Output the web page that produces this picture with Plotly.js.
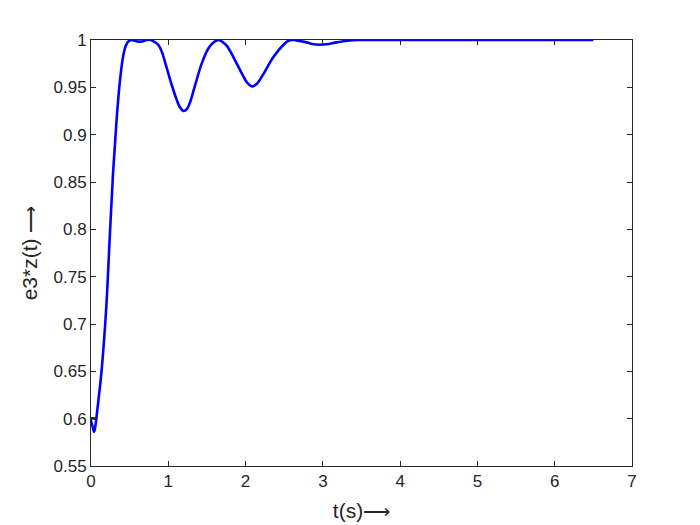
<!DOCTYPE html>
<html>
<head>
<meta charset="utf-8">
<script src="https://cdn.plot.ly/plotly-3.0.1.min.js"></script>
<style>html,body{margin:0;padding:0;background:#fff;}</style>
</head>
<body>
<div id="chart" style="width:700px;height:525px;"></div>
<script>
// Time samples (s)
var tValues = [0.06, 0, 0.02, 0.04, 0.06, 0.08, 0.134, 0.198, 0.241, 0.285, 0.328, 0.371, 0.414, 0.45, 0.49,
  0.53, 0.6, 0.66, 0.72, 0.77, 0.82, 0.87, 0.914, 0.978, 1.043, 1.108, 1.15, 1.2, 1.24, 1.281, 1.346,
  1.432, 1.518, 1.58, 1.647, 1.7, 1.756, 1.842, 1.95, 2.02, 2.09, 2.15, 2.23, 2.36, 2.49, 2.56, 2.62,
  2.7, 2.79, 2.88, 2.96, 3.05, 3.18, 3.35, 3.5, 4, 5, 6, 6.5];
// e3*z(t) values
var zValues = [0.6, 0.6, 0.592, 0.586, 0.594, 0.608, 0.648, 0.718, 0.789, 0.859, 0.912, 0.954, 0.982, 0.994, 0.999,
  1.0, 0.9985, 0.9985, 1.0, 1.0, 0.998, 0.995, 0.988, 0.971, 0.953, 0.937, 0.929, 0.925, 0.927, 0.934, 0.952,
  0.975, 0.991, 0.997, 1.0, 0.998, 0.994, 0.982, 0.965, 0.955, 0.951, 0.954, 0.964, 0.982, 0.995, 0.9995, 1.0,
  0.999, 0.9975, 0.9955, 0.995, 0.9955, 0.9975, 0.9995, 1.0, 1.0, 1.0, 1.0, 1.0];
var xTickVals = [0, 1, 2, 3, 4, 5, 6, 7];
var yTickVals = [0.55, 0.6, 0.65, 0.7, 0.75, 0.8, 0.85, 0.9, 0.95, 1];
var yTickText = ['0.55', '0.6', '0.65', '0.7', '0.75', '0.8', '0.85', '0.9', '0.95', '1'];
var arrow = '<span style="font-family:DejaVu Sans;font-size:19px;font-weight:200">\u27F6</span>';
var xLabel = 't(s)' + arrow;
var yLabel = 'e3*z(t) ' + arrow;

var axisColor = '#262626';
var tickFont = {family: 'Liberation Sans, Arial, sans-serif', size: 17, color: axisColor};
var titleFont = {family: 'Liberation Sans, Arial, sans-serif', size: 21, color: axisColor};

var trace = {
  x: tValues, y: zValues, type: 'scatter', mode: 'lines',
  line: {color: '#0000ff', width: 2.6, shape: 'spline', smoothing: 1},
  hoverinfo: 'skip'
};
var layout = {
  width: 700, height: 525,
  margin: {l: 91, r: 68, t: 40, b: 59},
  paper_bgcolor: '#ffffff', plot_bgcolor: '#ffffff',
  showlegend: false,
  xaxis: {
    range: [0, 7], tickvals: xTickVals, ticktext: xTickVals.map(String),
    ticks: 'inside', ticklen: 5, tickcolor: axisColor, tickwidth: 1,
    showline: true, linecolor: axisColor, linewidth: 1, mirror: 'ticks',
    showgrid: false, zeroline: false, tickfont: tickFont,
    title: {text: xLabel, font: titleFont, standoff: 12}
  },
  yaxis: {
    range: [0.55, 1], tickvals: yTickVals, ticktext: yTickText,
    ticks: 'inside', ticklen: 5, tickcolor: axisColor, tickwidth: 1,
    showline: true, linecolor: axisColor, linewidth: 1, mirror: 'ticks',
    showgrid: false, zeroline: false, tickfont: tickFont,
    title: {text: yLabel, font: titleFont, standoff: 10}
  }
};
Plotly.newPlot('chart', [trace], layout, {staticPlot: true, displayModeBar: false});
</script>
</body>
</html>
